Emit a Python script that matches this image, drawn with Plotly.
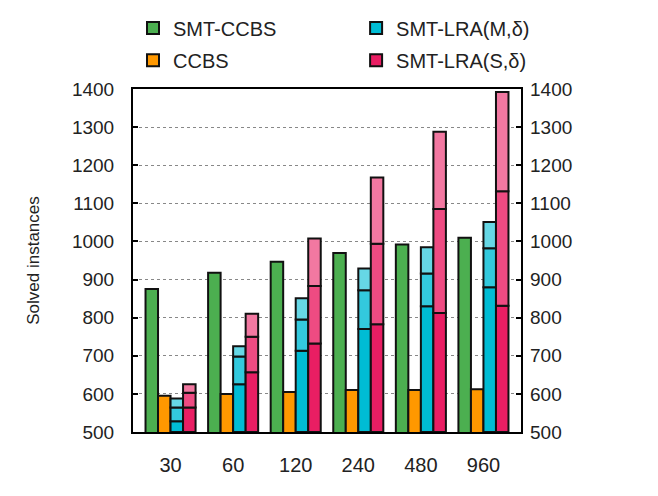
import plotly.graph_objects as go

# Datos
grupos = ["30", "60", "120", "240", "480", "960"]
smt_ccbs = [875, 918, 947, 970, 992, 1010]
ccbs = [595, 600, 605, 610, 610, 612]
# SMT-LRA: niveles acumulados (inferior, medio, superior)
lra_m_bajo = [528, 625, 713, 770, 830, 880]
lra_m_medio = [564, 698, 795, 872, 916, 982]
lra_m_alto = [588, 725, 851, 929, 985, 1051]
lra_s_bajo = [564, 657, 732, 783, 812, 831]
lra_s_medio = [603, 750, 883, 994, 1085, 1132]
lra_s_alto = [625, 810, 1008, 1168, 1288, 1392]

FUENTE = "Liberation Sans, Arial, sans-serif"
borde = dict(color="#111", width=2)

fig = go.Figure()

fig.add_trace(go.Bar(x=grupos, y=smt_ccbs, name="SMT-CCBS", offsetgroup="a",
                     marker=dict(color="#4CAF50", line=borde), legend="legend"))
fig.add_trace(go.Bar(x=grupos, y=ccbs, name="CCBS", offsetgroup="b",
                     marker=dict(color="#FF9800", line=borde), legend="legend2"))


def segmentos(bajo, medio, alto, colores, nombre, grupo, leyenda):
    base0 = [500] * len(bajo)
    niveles = [(base0, bajo), (bajo, medio), (medio, alto)]
    for i, ((b, t), c) in enumerate(zip(niveles, colores)):
        fig.add_trace(go.Bar(
            x=grupos, y=[tt - bb for bb, tt in zip(b, t)], base=b,
            name=nombre, offsetgroup=grupo, showlegend=(i == 0),
            marker=dict(color=c, line=borde), legend=leyenda))


segmentos(lra_m_bajo, lra_m_medio, lra_m_alto,
          ["#00BCD4", "#33C9DD", "#66D7E5"], "SMT-LRA(M,δ)", "c", "legend3")
segmentos(lra_s_bajo, lra_s_medio, lra_s_alto,
          ["#E91E63", "#EE4B82", "#F278A1"], "SMT-LRA(S,δ)", "d", "legend4")

# traza vacía para que aparezca el eje derecho
fig.add_trace(go.Scatter(x=[grupos[0]], y=[None], yaxis="y2", showlegend=False,
                         hoverinfo="skip"))

leg = dict(font=dict(family=FUENTE, size=20, color="#222"), bgcolor="rgba(0,0,0,0)",
           xanchor="left", yanchor="middle")

# la página tiene un margen de 8 px en el body: se compensa en los márgenes
fig.update_layout(
    width=658, height=496,
    margin=dict(l=125, r=145, t=81, b=72, autoexpand=False),
    paper_bgcolor="white", plot_bgcolor="white",
    barmode="group", bargap=0.2, bargroupgap=0,
    font=dict(family=FUENTE, size=19, color="#222"),
    legend=dict(x=0.0, y=1.178, **leg),
    legend2=dict(x=0.0, y=1.084, **leg),
    legend3=dict(x=0.575, y=1.178, **leg),
    legend4=dict(x=0.575, y=1.084, **leg),
    xaxis=dict(type="category", range=[-0.6, 5.6], showline=True, mirror=True,
               linecolor="black", linewidth=2, ticks="", showgrid=False,
               ticklabelstandoff=14, tickfont=dict(size=20)),
    yaxis=dict(range=[500, 1400], dtick=100, showline=True, mirror="ticks",
               linecolor="black", linewidth=2, ticks="inside", ticklen=5,
               tickcolor="black", tickwidth=1.5, showgrid=True, gridcolor="#888",
               griddash="dot", gridwidth=1, zeroline=False, ticklabelstandoff=13,
               title=dict(text="Solved instances", standoff=28,
                          font=dict(size=17))),
    yaxis2=dict(range=[500, 1400], dtick=100, overlaying="y", side="right",
                showgrid=False, showline=False, ticks="", zeroline=False,
                ticklabelstandoff=8),
)

fig.write_html("out.html")
